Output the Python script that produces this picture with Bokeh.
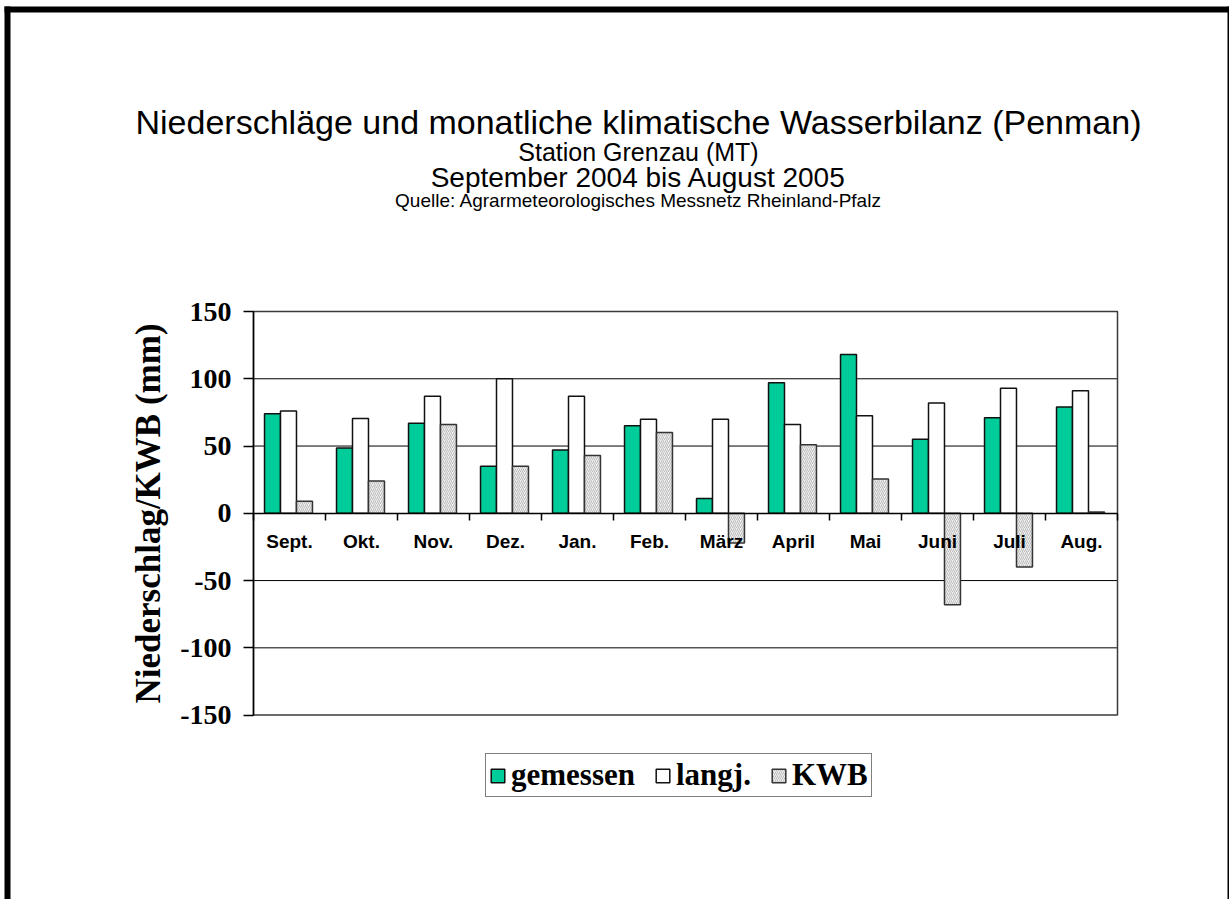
from bokeh.plotting import figure
from bokeh.models import (ColumnDataSource, Range1d, LinearAxis, FixedTicker, Label, Legend,
                          LegendItem, BoxAnnotation)
from bokeh.transform import dodge
from bokeh.embed import file_html
from bokeh.resources import INLINE

months = ["Sept.", "Okt.", "Nov.", "Dez.", "Jan.", "Feb.", "März", "April", "Mai", "Juni", "Juli", "Aug."]
gemessen = [74, 48.5, 67, 35, 47, 65, 11, 97, 118, 55, 71, 79]
langj = [76, 70.5, 87, 100, 87, 70, 70, 66, 72.5, 82, 93, 91]
kwb = [9, 24, 66, 35, 43, 60, -22, 51, 25.5, -68, -40, 1]
y_ticks = [-150, -100, -50, 0, 50, 100, 150]
grid_vals = [-100, -50, 50, 100]

title_main = "Niederschläge und monatliche klimatische Wasserbilanz (Penman)"
title_station = "Station Grenzau (MT)"
title_period = "September 2004 bis August 2005"
title_source = "Quelle: Agrarmeteorologisches Messnetz Rheinland-Pfalz"
y_label = "Niederschlag/KWB (mm)"

n = len(months)
centers = [i + 0.5 for i in range(n)]
src = ColumnDataSource(dict(xc=centers, month=months, gem=gemessen, lang=langj, kwb=kwb))

# canvas / plot-area layout (pixels)
W, H = 1229, 899
PX0, PX1 = 253, 1117      # plot area left / right
PY0, PY1 = 311, 714.6     # plot area top / bottom
YMIN, YMAX = -150, 150
sx = (PX1 - PX0) / n
sy = (PY1 - PY0) / (YMAX - YMIN)

p = figure(width=W, height=H,
           x_range=Range1d(-PX0 / sx, n + (W - PX1) / sx),
           y_range=Range1d(YMIN - (H - PY1) / sy, YMAX + PY0 / sy),
           output_backend="svg", toolbar_location=None,
           x_axis_location=None, y_axis_location=None,
           min_border=0, min_border_left=0, min_border_right=0, min_border_top=0, min_border_bottom=0)
p.background_fill_color = "white"
p.border_fill_color = "white"
p.outline_line_color = None
p.xgrid.visible = False
p.ygrid.visible = False

# horizontal grid lines inside the plot area
p.segment(x0=[0] * len(grid_vals), x1=[n] * len(grid_vals), y0=grid_vals, y1=grid_vals,
          line_color="black", line_width=1)
# plot-area frame
p.quad(left=[0], right=[n], bottom=[YMIN], top=[YMAX], fill_color=None,
       line_color="#3a3a3a", line_width=1.5)

bw = 0.222
r1 = p.vbar(x=dodge("xc", -0.236), top="gem", bottom=0, width=bw, source=src,
            fill_color="#00CC99", line_color="#111111", line_width=1.5)
r2 = p.vbar(x=dodge("xc", -0.014), top="lang", bottom=0, width=bw, source=src,
            fill_color="white", line_color="#111111", line_width=1.5)
r3 = p.vbar(x=dodge("xc", 0.208), top="kwb", bottom=0, width=bw, source=src,
            fill_color="#eeeeee", line_color="#333333", line_width=1.5,
            hatch_pattern="/", hatch_color="#9a9a9a", hatch_scale=4, hatch_weight=0.6)

# y axis at x = 0
ya = LinearAxis(fixed_location=0, bounds=(YMIN, YMAX), ticker=FixedTicker(ticks=y_ticks),
                major_label_overrides={float(t): str(t) for t in y_ticks})
ya.axis_line_color = "black"
ya.axis_line_width = 1.5
ya.major_tick_out = 10
ya.major_tick_in = 0
ya.minor_tick_out = 0
ya.minor_tick_in = 0
ya.major_tick_line_color = "black"
ya.major_tick_line_width = 1.5
ya.major_label_text_font = "Liberation Serif"
ya.major_label_text_font_style = "bold"
ya.major_label_text_font_size = "28px"
ya.major_label_text_color = "black"
ya.major_label_standoff = 12
ya.axis_label = y_label
ya.axis_label_text_font = "Liberation Serif"
ya.axis_label_text_font_style = "bold"
ya.axis_label_text_font_size = "35px"
ya.axis_label_text_color = "black"
ya.axis_label_standoff = 9
p.add_layout(ya, "left")

# category labels at y = 0
xa = LinearAxis(fixed_location=0, ticker=FixedTicker(ticks=centers),
                major_label_overrides={c: m for c, m in zip(centers, months)})
xa.axis_line_color = None
xa.major_tick_line_color = None
xa.major_tick_out = 0
xa.major_tick_in = 0
xa.minor_tick_out = 0
xa.major_label_text_font = "Liberation Sans"
xa.major_label_text_font_style = "bold"
xa.major_label_text_font_size = "19px"
xa.major_label_text_color = "black"
xa.major_label_standoff = 18
p.add_layout(xa, "below")

# boundary ticks / zero line at y = 0
ta = LinearAxis(fixed_location=0, bounds=(0, n), ticker=FixedTicker(ticks=list(range(n + 1))))
ta.axis_line_color = "black"
ta.axis_line_width = 1.5
ta.major_tick_out = 7
ta.major_tick_in = 0
ta.minor_tick_out = 0
ta.major_tick_line_color = "black"
ta.major_tick_line_width = 1.5
ta.major_label_text_font_size = "0px"
ta.major_label_text_color = None
p.add_layout(ta, "below")

# titles (screen units, y measured up from the bottom of the canvas)
def add_title(txt, page_y, size):
    p.add_layout(Label(x=638, y=H - page_y, x_units="screen", y_units="screen", text=txt,
                       text_align="center", text_baseline="alphabetic", text_font="Liberation Sans",
                       text_font_size=size, text_color="black"))
add_title(title_main, 121, "34px")
add_title(title_station, 151, "25px")
add_title(title_period, 177, "28px")
add_title(title_source, 200, "19px")

# legend
legend = Legend(items=[LegendItem(label="gemessen", renderers=[r1]),
                       LegendItem(label="langj.", renderers=[r2]),
                       LegendItem(label="KWB", renderers=[r3])],
                orientation="horizontal", location=(485, H - 797))
legend.label_text_font = "Liberation Serif"
legend.label_text_font_style = "bold"
legend.label_text_font_size = "31px"
legend.label_text_color = "black"
legend.glyph_width = 17
legend.glyph_height = 17
legend.label_standoff = 5
legend.spacing = 19
legend.padding = 3
legend.margin = 0
legend.border_line_color = "black"
legend.border_line_width = 1.5
legend.background_fill_color = "white"
p.add_layout(legend, "center")

# page border (top, left, right)
for (l, r, b, t) in [(4, W, H - 12, H - 6), (4, 10, 0, H - 6), (W - 2, W, 0, H - 6)]:
    p.add_layout(BoxAnnotation(left=l, right=r, bottom=b, top=t, left_units="screen",
                               right_units="screen", bottom_units="screen", top_units="screen",
                               fill_color="black", fill_alpha=1, line_color=None, level="overlay"))

open("out.html", "w").write(file_html(p, INLINE))
